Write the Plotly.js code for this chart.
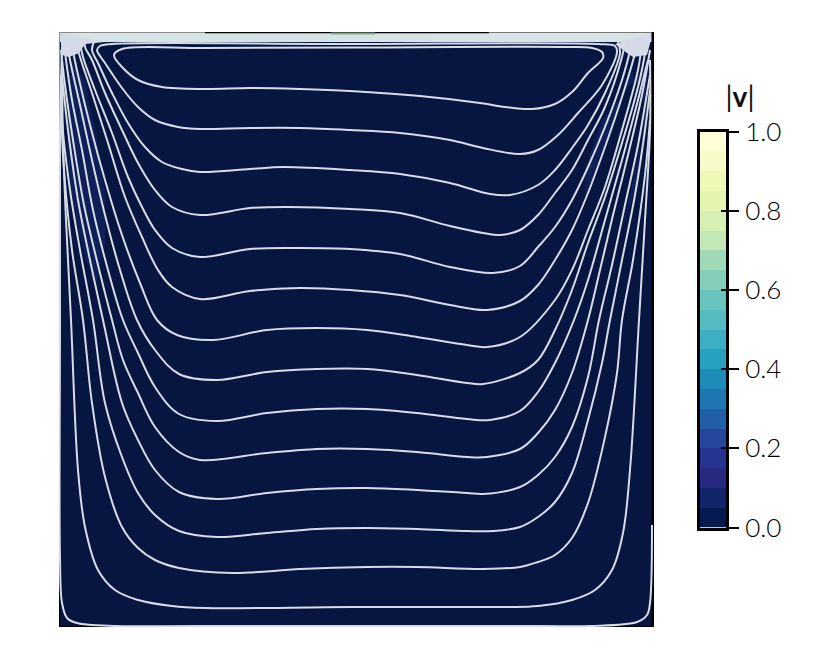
<!DOCTYPE html>
<html>
<head>
<meta charset="utf-8">
<script src="https://cdn.plot.ly/plotly-3.0.1.min.js"></script>
<style>
  html, body { margin: 0; padding: 0; background: #fff; }
</style>
</head>
<body>
<div id="chart" style="width:831px;height:659px"></div>
<script>
// cavity coordinates, 595 grid cells a side, origin bottom left
const cavitySize = 595;

const loopX = [63,55,63,79,103,146,191,241,291,361,421,446,473,496,513,529,544,543,533,506,291,146,63];
const loopY = [578,572,560,547,540,538,539,538,536,531,524,520,518,523,535,554,569,575,579,580,579.5,579,578];
const line1X = [41,38,46,63,79,96,119,141,191,241,291,341,391,424,461,479,499,519,543,558,556,539,291,53,41];
const line1Y = [581,577,564,539,520,507,500,498,499,499,497,494,487,479,473,477,492,514,542,575,581,583,583,583,581];
const line2X = [35,33,39,53,69,86,103,123,141,191,224,291,341,391,431,451,479,496,513,529,546,561,559];
const line2Y = [585,577,564,534,504,480,465,458,455,458,460,457,453,444,433,432,442,457,479,502,534,574,585];
const line3X = [26,26,33,46,63,79,96,113,141,191,231,291,341,391,424,441,461,479,496,513,529,546,563,566];
const line3Y = [585,580,567,534,497,464,437,420,412,419,420,418,414,401,394,392,397,412,434,457,487,520,570,585];
const line4X = [21,24,36,53,69,83,96,113,141,191,241,291,341,391,434,461,479,496,513,529,546,563,571,572];
const line4Y = [585,570,537,494,450,420,397,379,370,378,379,378,373,360,354,361,380,400,427,460,500,547,577,585];
const line5X = [17,21,33,49,66,83,99,113,141,191,241,291,341,391,428,461,479,496,513,529,546,563,576,578];
const line5Y = [585,570,534,484,430,390,357,340,328,336,339,337,332,322,317,326,342,367,397,434,480,530,574,585];
const line6X = [12,19,31,46,63,81,98,118,154,208,258,308,358,408,428,461,496,513,529,546,563,579,583];
const line6Y = [585,552,502,447,392,344,307,292,287,297,299,297,290,282,280,290,327,357,397,440,497,557,585];
const line7X = [8,11,21,33,46,61,78,96,120,158,208,258,308,358,408,424,461,479,496,513,529,546,563,579,586,587];
const line7Y = [585,567,522,467,412,357,307,277,253,247,255,258,258,252,244,243,254,267,297,337,384,430,484,540,574,585];
const line8X = [5,7,13,23,34,49,64,79,96,120,158,208,258,308,358,408,431,461,479,496,515,529,546,563,579,589];
const line8Y = [585,567,527,477,417,357,307,274,240,213,206,214,218,218,214,208,207,216,235,264,307,347,407,467,527,567];
const line9X = [2,6,14,25,39,53,64,79,96,120,141,208,258,308,358,408,428,461,479,496,513,529,541,554,569,583,591];
const line9Y = [577,542,487,422,362,307,267,234,200,175,167,174,178,178,175,170,170,178,194,217,254,307,357,412,472,532,577];
const line10X = [3,9,19,31,44,63,79,96,120,158,208,258,308,358,408,424,461,479,496,513,529,540,553,566,579,591];
const line10Y = [552,497,427,367,307,224,187,157,135,128,134,138,139,137,134,133,140,152,170,200,250,307,362,422,482,552];
const line11X = [2,3,11,21,34,46,63,79,96,120,158,208,258,308,358,408,434,461,479,496,513,529,543,551,563,576,586,591];
const line11Y = [552,507,437,377,307,224,170,134,112,96,90,94,98,99,98,96,96,100,110,125,154,207,264,307,367,432,497,537];
const line12X = [2,5,13,24,33,46,63,79,96,120,174,241,308,358,424,461,479,496,513,529,546,558,563,574,586,591];
const line12Y = [517,457,377,307,224,150,100,79,67,59,54,58,60,60,58,60,65,72,89,124,190,254,307,367,452,507];
const line13X = [3,4,7,12,19,26,39,56,79,113,146,291,446,479,513,536,553,564,571,580,586,591,591];
const line13Y = [567,487,407,307,157,100,57,37,27,21,19,20,20,21,27,37,57,94,157,307,407,497,567];
const line14X = [3,1,1,1,3,8,18,58,141,481,531,578,588,591,593];
const line14Y = [580,487,307,70,24,9,4,1,1,1,1,5,12,24,102];

const streamX = [loopX, line1X, line2X, line3X, line4X, line5X, line6X, line7X, line8X, line9X, line10X, line11X, line12X, line13X, line14X];
const streamY = [loopY, line1Y, line2Y, line3Y, line4Y, line5Y, line6Y, line7Y, line8Y, line9Y, line10Y, line11Y, line12Y, line13Y, line14Y];

// slightly faster wedges under the corners
const wedgeLeftX = [11,8,16,28,38,46,46,39,26];
const wedgeLeftY = [567,464,410,364,344,384,430,480,547];
const wedgeRightX = [573,526,526,543,589,586,576,563,589];
const wedgeRightY = [557,430,457,507,564,514,437,397,514];

// pale lid layer and corners
const lidX = [1,594,594,1];
const lidY = [594,594,585,585];
const cornerLeftX = [1,46,26,20,10,3];
const cornerLeftY = [594,585,583,574,570,572];
const cornerRightX = [594,556,568,574,588];
const cornerRightY = [595,583,574,570,572];

// |v| peak under the lid
const lidPeakX = [272,316];
const lidPeakY = [593.5,593.5];

// |v| field, lowest band everywhere below the lid
const fieldX = [0,595];
const fieldY = [0,595];
const fieldZ = [[0.02]];

// colour scale
const scaleEdges = [0,0.05,0.1,0.15,0.2,0.25,0.3,0.35,0.4,0.45,0.5,0.55,0.6,0.65,0.7,0.75,0.8,0.85,0.9,0.95,1];
const scaleLevels = [[0.025],[0.075],[0.125],[0.175],[0.225],[0.275],[0.325],[0.375],[0.425],[0.475],[0.525],[0.575],[0.625],[0.675],[0.725],[0.775],[0.825],[0.875],[0.925],[0.975]];
const scaleColors = ['#071a50','#12246a','#25297f','#263390','#24479c','#2160a8','#1f76b0','#1e8cb8','#28a0c0','#3cb0c2',
  '#55bdc1','#68c4bd','#85cfba','#a0d9b8','#c3e7b5','#d6efb3','#e4f4b1','#eff8b6','#f7fbc8','#fdfed6'];
const tickValues = [0,0.2,0.4,0.6,0.8,1];
const innerTicks = [0.2,0.4,0.6,0.8];
const fieldColor = '#061641';
const lidPeakColor = '#7fa58a';

const colorscale = [];
scaleColors.forEach((c, i) => {
  colorscale.push([scaleEdges[i], c]);
  colorscale.push([scaleEdges[i + 1], c]);
});

const lineColor = '#d6dbe5';
const traces = [];

traces.push({
  type: 'heatmap', x: fieldX, y: fieldY, z: fieldZ,
  colorscale: [[0, fieldColor], [1, fieldColor]],
  zmin: 0, zmax: 1, showscale: false, hoverinfo: 'skip'
});

[[wedgeLeftX, wedgeLeftY], [wedgeRightX, wedgeRightY]].forEach(p => {
  traces.push({
    type: 'scatter', mode: 'lines', x: p[0], y: p[1], fill: 'toself',
    fillcolor: '#0f2058', line: { width: 0 }, hoverinfo: 'skip'
  });
});

traces.push({
  type: 'scatter', mode: 'lines', x: lidX, y: lidY, fill: 'toself',
  fillcolor: '#d6e4e5', line: { width: 0 }, hoverinfo: 'skip'
});
[[cornerLeftX, cornerLeftY], [cornerRightX, cornerRightY]].forEach(p => {
  traces.push({
    type: 'scatter', mode: 'lines', x: p[0], y: p[1], fill: 'toself',
    fillcolor: '#d3dbe8', line: { width: 0 }, hoverinfo: 'skip'
  });
});

// outer frame, dark where |v| is low and grey along the upper part
const edges = [
  { x: [0, 0], y: [0, 348], color: '#000', width: 2.5 },
  { x: [0, 0], y: [348, 595], color: '#8c8c8c', width: 2 },
  { x: [0, 146], y: [595, 595], color: '#8c8c8c', width: 2 },
  { x: [146, 430], y: [595, 595], color: '#000', width: 2.5 },
  { x: [430, 595], y: [595, 595], color: '#777', width: 2 },
  { x: [594.5, 594.5], y: [0, 595], color: '#000', width: 4 },
  { x: [0, 595], y: [0, 0], color: '#000', width: 2 }
];
edges.forEach(e => {
  traces.push({
    type: 'scatter', mode: 'lines', x: e.x, y: e.y, cliponaxis: false,
    line: { color: e.color, width: e.width }, hoverinfo: 'skip'
  });
});

streamX.forEach((xs, i) => {
  traces.push({
    type: 'scatter', mode: 'lines', x: xs, y: streamY[i], cliponaxis: false,
    line: { color: lineColor, width: 2, shape: 'spline', smoothing: 1 }, hoverinfo: 'skip'
  });
});

traces.push({
  type: 'scatter', mode: 'lines', x: lidPeakX, y: lidPeakY,
  line: { color: lidPeakColor, width: 2 }, hoverinfo: 'skip'
});

// scale bar
traces.push({
  type: 'heatmap', xaxis: 'x2', yaxis: 'y2', x: [0, 1], y: scaleEdges, z: scaleLevels,
  colorscale: colorscale, zmin: 0, zmax: 1, showscale: false, hoverinfo: 'skip'
});
traces.push({
  type: 'scatter', mode: 'lines', xaxis: 'x2', yaxis: 'y3', x: [0, 1], y: [0, 1],
  line: { width: 0 }, hoverinfo: 'skip'
});

const layout = {
  width: 831,
  height: 659,
  margin: { l: 0, r: 0, t: 0, b: 0 },
  paper_bgcolor: '#fff',
  plot_bgcolor: '#fff',
  showlegend: false,
  title: {
    text: '|<b>v</b>|',
    x: 740 / 831, xanchor: 'center',
    y: 1 - 97 / 659, yanchor: 'middle',
    font: { family: 'Lato, sans-serif', size: 28, color: '#111' }
  },
  xaxis: { domain: [59 / 831, 654 / 831], range: [0, cavitySize], visible: false, fixedrange: true },
  yaxis: { domain: [32 / 659, 627 / 659], range: [0, cavitySize], visible: false, fixedrange: true },
  xaxis2: {
    domain: [700 / 831, 726 / 831], range: [0, 1], anchor: 'y2', fixedrange: true,
    showline: true, linecolor: '#000', linewidth: 3, mirror: true,
    showticklabels: false, ticks: '', showgrid: false, zeroline: false
  },
  yaxis2: {
    domain: [131.5 / 659, 527.5 / 659], range: [0, 1], anchor: 'x2', side: 'right', fixedrange: true,
    showline: true, linecolor: '#000', linewidth: 3, mirror: true,
    tickmode: 'array', tickvals: tickValues, tickformat: '.1f',
    ticks: 'outside', ticklen: 10, tickwidth: 1.5, tickcolor: '#000', ticklabelstandoff: 1,
    tickfont: { family: 'Lato, sans-serif', size: 26, color: '#000', weight: 300 },
    showgrid: false, zeroline: false
  },
  yaxis3: {
    domain: [131.5 / 659, 527.5 / 659], range: [0, 1], overlaying: 'y2', anchor: 'x2', side: 'right', fixedrange: true,
    tickmode: 'array', tickvals: innerTicks, showticklabels: false,
    ticks: 'inside', ticklen: 5, tickwidth: 1.5, tickcolor: '#000',
    showgrid: false, zeroline: false
  }
};

Plotly.newPlot('chart', traces, layout, { displayModeBar: false, responsive: false });
</script>
</body>
</html>
